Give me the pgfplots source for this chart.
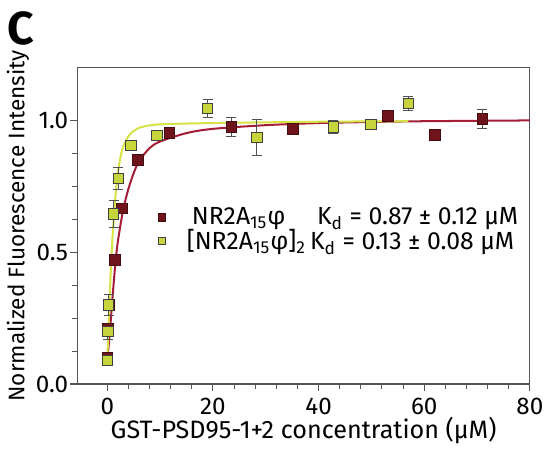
\documentclass[border=0pt]{standalone}
\usepackage{fontspec}
\setmainfont{Fira Sans}
\usepackage{pgfplots}
\pgfplotsset{compat=1.18}
\usetikzlibrary{calc}

\definecolor{nrmark}{RGB}{112,20,28}
\definecolor{nrline}{RGB}{165,30,55}
\definecolor{dimark}{RGB}{200,212,60}
\definecolor{diline}{RGB}{214,226,70}
\definecolor{framegray}{RGB}{85,85,85}
\definecolor{errgray}{RGB}{80,80,80}

\begin{document}
\begin{tikzpicture}
\begin{axis}[
    name=main,
    scale only axis, width=224bp, height=156.5bp,
    xmin=-5.7, xmax=80, ymin=0, ymax=1.2,
    xtick={0,20,40,60,80}, ytick={0,0.5,1},
    minor x tick num=4, minor y tick num=3,
    tick align=outside, xtick pos=bottom, ytick pos=left,
    major tick length=3.5bp, minor tick length=2.5bp,
    axis line style={framegray, line width=0.6pt},
    tick style={framegray, line width=0.5pt},
    /pgf/number format/assume math mode=true,
    tick label style={font=\fontsize{12}{14}\selectfont},
    yticklabel style={xshift=2.5bp, /pgf/number format/.cd, fixed, fixed zerofill, precision=1},
    xlabel={GST-PSD95-1+2 concentration (μM)},
    ylabel={Normalized Fluorescence Intensity},
    xlabel style={font=\fontsize{12.5}{14}\selectfont, yshift=5.5bp},
    ylabel style={font=\fontsize{11.2}{13}\selectfont, yshift=-3.5bp},
    legend style={at={(0.165,0.585)}, anchor=north west, draw=none, fill=none,
        font=\fontsize{12.3}{14}\selectfont, row sep=-3bp,
        legend image code/.code={\draw[#1, mark size=1.8bp] plot coordinates {(0.2cm,0cm)};}},
    legend cell align=left,
]
% fitted curves
\addplot[nrline, line width=1pt, smooth, tension=0.5, forget plot] coordinates {
(0,0.09)(0.5,0.2)(1,0.33)(1.5,0.45)(2,0.54)(3,0.66)(4,0.74)(5,0.80)(6,0.845)
(8,0.895)(10,0.92)(15,0.952)(20,0.968)(30,0.982)(40,0.99)(50,0.994)(60,0.997)(80,1.0)};
\addplot[diline, line width=1pt, smooth, tension=0.5, forget plot] coordinates {
(0,0.09)(0.3,0.25)(0.6,0.4)(1,0.56)(1.5,0.7)(2,0.8)(2.5,0.86)(3,0.9)(4,0.94)
(5,0.96)(6.5,0.975)(10,0.985)(20,0.99)(40,0.995)(57,0.997)};
% NR2A15phi
\addplot[only marks, mark=square*, mark size=2.6bp,
    mark options={fill=nrmark, draw=nrmark!60!black, line width=0.4pt},
    error bars/.cd, y dir=both, y explicit,
    error bar style={errgray, line width=0.6pt}, error mark options={rotate=90, mark size=2.5bp, errgray}]
coordinates {
(0.05,0.10) +- (0,0.015)
(0.15,0.21) +- (0,0.02)
(0.3,0.30) +- (0,0.02)
(1.4,0.47) +- (0,0.015)
(2.8,0.667) +- (0,0.015)
(5.8,0.85) +- (0,0.015)
(11.8,0.953) +- (0,0.01)
(23.5,0.975) +- (0,0.035)
(35.1,0.968) +- (0,0.012)
(53.1,1.018) +- (0,0.01)
(62.0,0.945) +- (0,0.01)
(71.0,1.005) +- (0,0.037)
};
% [NR2A15phi]2
\addplot[only marks, mark=square*, mark size=2.6bp,
    mark options={fill=dimark, draw=black!75, line width=0.5pt},
    error bars/.cd, y dir=both, y explicit,
    error bar style={errgray, line width=0.6pt}, error mark options={rotate=90, mark size=2.5bp, errgray}]
coordinates {
(0,0.09) +- (0,0.01)
(0.1,0.20) +- (0,0.03)
(0.25,0.30) +- (0,0.04)
(1.2,0.645) +- (0,0.05)
(2.1,0.78) +- (0,0.04)
(4.5,0.905) +- (0,0.01)
(9.4,0.942) +- (0,0.01)
(19.0,1.045) +- (0,0.035)
(28.3,0.935) +- (0,0.067)
(42.8,0.975) +- (0,0.026)
(49.9,0.985) +- (0,0.01)
(57.0,1.065) +- (0,0.027)
};
\legend{\hspace{11bp}\makebox[62bp][l]{NR2A\textsubscript{15}φ}K\textsubscript{d} = 0.87 ± 0.12 μM,
        \hspace{8.5bp}\makebox[61bp][l]{[NR2A\textsubscript{15}φ]\textsubscript{2}}K\textsubscript{d} = 0.13 ± 0.08 μM}
\end{axis}
\node[font=\bfseries\fontsize{23}{25}\selectfont, anchor=center]
    at ($(main.north west)+(-28bp,19.5bp)$) {C};
\path ($(main.north west)+(0,33.5bp)$);
\end{tikzpicture}
\end{document}
